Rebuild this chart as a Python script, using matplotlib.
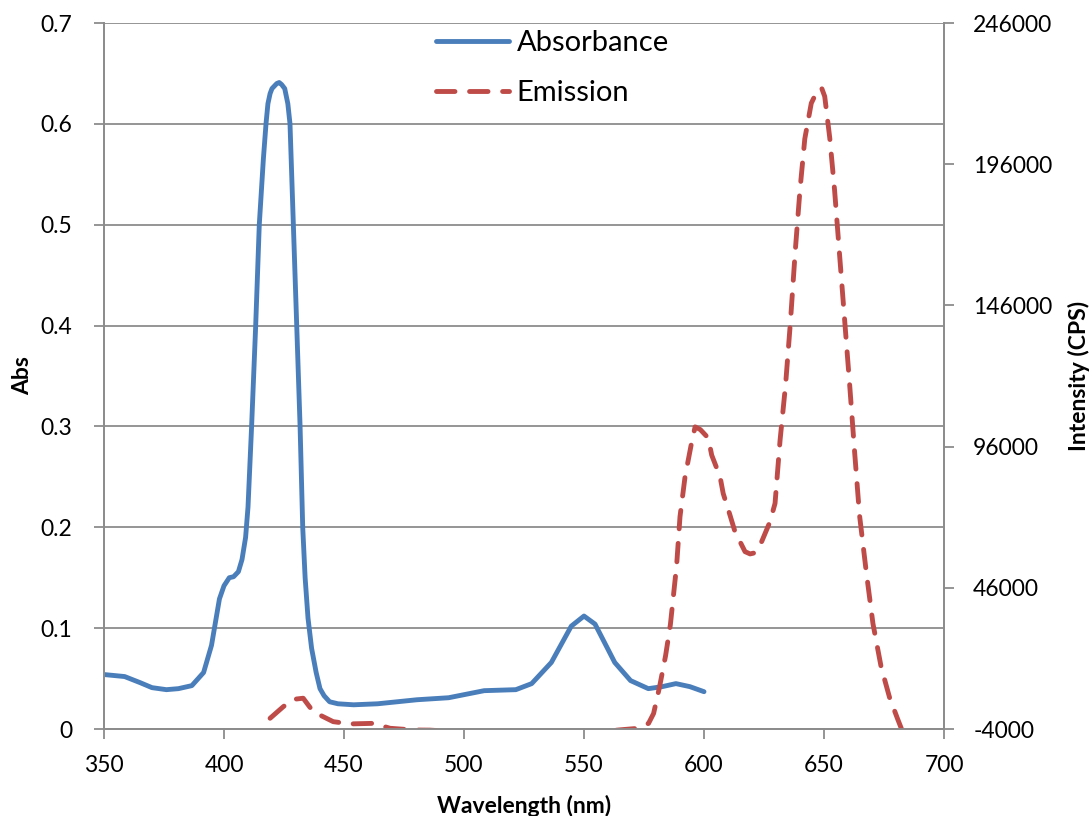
import matplotlib
matplotlib.use('Agg')
import matplotlib.pyplot as plt

plt.rcParams['font.family'] = ['Lato', 'DejaVu Sans']
plt.rcParams['axes.unicode_minus'] = False

# absorbance spectrum (left axis)
abs_wl = [350, 358.6, 365, 370, 376, 381, 386.6, 391.5, 394.8, 398.1, 400, 402.2, 404,
          406, 407.5, 409, 410, 411.5, 413.2, 414.7, 416.4, 417.5, 418.3, 419.2, 420,
          422, 423, 424, 425.3, 426.6, 427.5, 428.9, 430.3, 431.7, 432.8, 433.8, 435,
          436.5, 438.4, 440, 441.7, 444, 447.5, 454, 464, 480.4, 493.6, 508.4, 521.6,
          528.2, 536.4, 544.7, 550, 554.6, 562.8, 569.4, 576.8, 582.6, 588.3, 594.1, 600]
abs_val = [0.054, 0.052, 0.046, 0.041, 0.039, 0.040, 0.043, 0.056, 0.083, 0.129, 0.142, 0.150, 0.151,
           0.156, 0.168, 0.190, 0.220, 0.300, 0.400, 0.500, 0.565, 0.600, 0.620, 0.630, 0.635,
           0.640, 0.641, 0.639, 0.635, 0.620, 0.600, 0.500, 0.400, 0.300, 0.200, 0.150, 0.110,
           0.080, 0.056, 0.040, 0.033, 0.027, 0.025, 0.024, 0.025, 0.029, 0.031, 0.038, 0.039,
           0.045, 0.066, 0.102, 0.112, 0.104, 0.066, 0.048, 0.040, 0.042, 0.045, 0.042, 0.037]

# emission spectrum (right axis)
em_wl = [419.2, 424.7, 428.9, 433, 437.2, 445.5, 452.5, 462.2, 469.2, 478.9, 485.8, 498,
         515, 530, 551, 565, 572.7, 576.9, 579, 581.5, 584, 586, 588.6, 590, 592.1, 594.9,
         596.3, 598.5, 601.8, 603.2, 606.7, 608, 610.8, 612.9, 617.1, 619.2, 621.3, 624,
         627.5, 629.6, 631.7, 634, 636, 638, 640, 642, 644.7, 647.5, 649, 650.3, 652.4,
         654.4, 656.5, 658.6, 660.7, 662.7, 664.8, 667.6, 670.4, 673.8, 677.3, 680.7, 683.5]
em_val = [-200, 3900, 6500, 6900, 2100, -1400, -2200, -2000, -3750, -4350, -4400, -5000,
          -5500, -7000, -5500, -4300, -3750, -2000, 1500, 11000, 22000, 33000, 54000, 71200,
          85300, 97700, 103000, 102000, 99000, 93000, 85300, 79400, 71800, 65900, 58800,
          58000, 58400, 62300, 69400, 75900, 98300, 118000, 140000, 165000, 187000, 205000,
          217600, 222500, 223000, 220000, 205300, 186900, 163800, 140800, 117800, 94700,
          71700, 51700, 33300, 18000, 7200, -500, -6600]

abs_ticks = [0, 0.1, 0.2, 0.3, 0.4, 0.5, 0.6, 0.7]
abs_labels = ['0', '0.1', '0.2', '0.3', '0.4', '0.5', '0.6', '0.7']
em_ticks = [-4000, 46000, 96000, 146000, 196000, 246000]
wl_ticks = [350, 400, 450, 500, 550, 600, 650, 700]

blue = '#4a7ebb'
red = '#be4b48'
grey = '#8c8c8c'

fig = plt.figure(figsize=(10.9, 8.16), dpi=100)
ax = fig.add_axes([104 / 1090, 1 - 729 / 816, 840 / 1090, 706 / 816])
ax2 = ax.twinx()

ax.set_xlim(350, 700)
ax.set_ylim(0, 0.7)
ax2.set_ylim(-4000, 246000)

ax.set_yticks(abs_ticks)
ax.set_yticklabels(abs_labels)
ax.set_xticks(wl_ticks)
ax2.set_yticks(em_ticks)

ax.yaxis.grid(True, color=grey, lw=1.3)
ax.set_axisbelow(True)

l1, = ax.plot(abs_wl, abs_val, color=blue, lw=3.5, solid_joinstyle='round',
              solid_capstyle='round', label='Absorbance')
l2, = ax2.plot(em_wl, em_val, color=red, lw=3.5, dashes=(3.8, 3),
               dash_capstyle='round', dash_joinstyle='round', label='Emission')

for a in (ax, ax2):
    for s in a.spines.values():
        s.set_color(grey)
        s.set_linewidth(1.3)
    a.spines['top'].set_visible(False)
    a.tick_params(direction='out', length=7, width=1.3, color=grey,
                  labelsize=16.5, labelcolor='black')

ax.tick_params(axis='y', pad=16)
ax.tick_params(axis='x', pad=12)
ax2.tick_params(axis='y', pad=14)

ax.set_xlabel('Wavelength (nm)', fontsize=16.5, fontweight='bold', labelpad=13)
ax.set_ylabel('Abs', fontsize=16.5, fontweight='bold', labelpad=5)
ax2.set_ylabel('Intensity (CPS)', fontsize=16.5, fontweight='bold', labelpad=11)

ax2.legend(handles=[l1, l2], loc='upper center', bbox_to_anchor=(0.534, 1.027),
           frameon=False, fontsize=21, handlelength=2.5, handletextpad=0.25,
           labelspacing=0.82)

fig.savefig('out.png', dpi=100)
